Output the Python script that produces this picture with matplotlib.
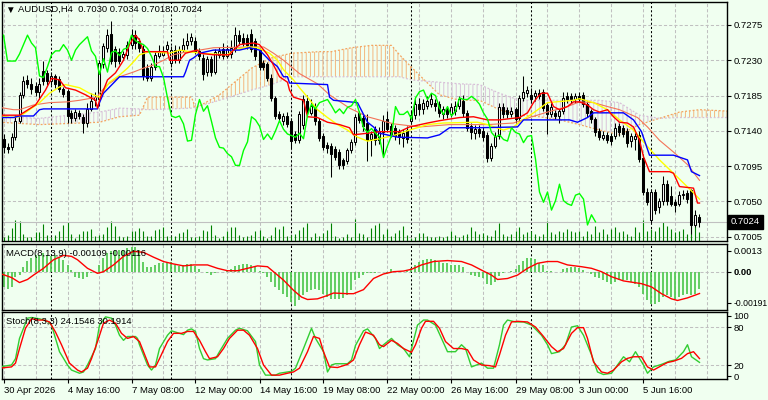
import numpy as np
import matplotlib.pyplot as plt

plt.rcParams['font.family'] = ['Liberation Sans', 'DejaVu Sans']

# AUDUSD H4 candles, bar 0 = 30 Apr 2026 00:00
opens = [
    .7130, .7120, .7119, .7132, .7153, .7186, .7205, .7200, .7197, .7190,
    .7216, .7214, .7204, .7210, .7206, .7193, .7191, .7163, .7156, .7163,
    .7158, .7150, .7168, .7179, .7180, .7225, .7246, .7264, .7244, .7240,
    .7234, .7237, .7250, .7262, .7254, .7244, .7220, .7208, .7222, .7236,
    .7237, .7244, .7227, .7243, .7230, .7243, .7249, .7254, .7255, .7242,
    .7233, .7215, .7232, .7215, .7237, .7245, .7236, .7238, .7244, .7262,
    .7259, .7259, .7264, .7254, .7243, .7226, .7225, .7208, .7182, .7161,
    .7152, .7159, .7153, .7136, .7128, .7148, .7178, .7163, .7170, .7152,
    .7133, .7122, .7121, .7117, .7113, .7103, .7102, .7115, .7126, .7163,
    .7157, .7150, .7130, .7142, .7128, .7138, .7155, .7146, .7144, .7138,
    .7131, .7141, .7152, .7160, .7174, .7168, .7172, .7174, .7176, .7174,
    .7161, .7168, .7162, .7165, .7172, .7178, .7163, .7146, .7137, .7143,
    .7140, .7135, .7106, .7121, .7134, .7171, .7166, .7161, .7168, .7157,
    .7182, .7188, .7186, .7184, .7188, .7189, .7173, .7161, .7163, .7159,
    .7165, .7184, .7184, .7180, .7184, .7186, .7174, .7165, .7155, .7140,
    .7131, .7135, .7134, .7133, .7146, .7144, .7140, .7127, .7130, .7135,
    .7106, .7062, .7026, .7062, .7043, .7051, .7072, .7057, .7049, .7047,
    .7058, .7061, .7064, .7020, .7030]
highs = [
    .7136, .7125, .7137, .7160, .7190, .7210, .7211, .7208, .7202, .7207,
    .7229, .7218, .7215, .7213, .7210, .7196, .7194, .7167, .7168, .7166,
    .7162, .7175, .7188, .7189, .7230, .7252, .7270, .7280, .7248, .7246,
    .7242, .7255, .7270, .7268, .7258, .7250, .7225, .7227, .7242, .7250,
    .7248, .7255, .7248, .7250, .7248, .7258, .7265, .7265, .7260, .7246,
    .7238, .7236, .7236, .7245, .7247, .7252, .7250, .7256, .7273, .7268,
    .7265, .7263, .7270, .7258, .7246, .7230, .7228, .7212, .7185, .7165,
    .7163, .7164, .7156, .7140, .7165, .7186, .7186, .7180, .7175, .7156,
    .7137, .7126, .7125, .7121, .7117, .7106, .7118, .7130, .7162, .7165,
    .7160, .7161, .7140, .7146, .7145, .7160, .7165, .7150, .7148, .7142,
    .7142, .7146, .7165, .7180, .7182, .7181, .7185, .7188, .7180, .7178,
    .7172, .7172, .7175, .7178, .7185, .7186, .7166, .7150, .7148, .7148,
    .7145, .7138, .7124, .7138, .7175, .7176, .7170, .7170, .7171, .7186,
    .7210, .7197, .7195, .7192, .7193, .7193, .7176, .7175, .7167, .7168,
    .7190, .7190, .7188, .7188, .7189, .7189, .7178, .7168, .7158, .7144,
    .7140, .7139, .7137, .7150, .7150, .7148, .7144, .7137, .7140, .7140,
    .7110, .7067, .7066, .7066, .7055, .7083, .7078, .7070, .7053, .7063,
    .7065, .7065, .7066, .7039, .7034]
lows = [
    .7112, .7112, .7115, .7128, .7150, .7182, .7195, .7187, .7185, .7180,
    .7198, .7198, .7198, .7195, .7190, .7183, .7150, .7150, .7152, .7155,
    .7137, .7145, .7165, .7172, .7172, .7220, .7240, .7225, .7222, .7225,
    .7230, .7232, .7245, .7245, .7240, .7205, .7204, .7204, .7218, .7233,
    .7235, .7240, .7222, .7226, .7226, .7240, .7245, .7250, .7238, .7230,
    .7205, .7210, .7210, .7212, .7233, .7232, .7233, .7233, .7240, .7250,
    .7248, .7245, .7240, .7230, .7218, .7218, .7204, .7178, .7155, .7152,
    .7148, .7145, .7118, .7124, .7124, .7143, .7160, .7160, .7148, .7127,
    .7115, .7112, .7081, .7103, .7092, .7092, .7098, .7112, .7122, .7150,
    .7140, .7102, .7108, .7122, .7123, .7108, .7138, .7132, .7128, .7123,
    .7120, .7125, .7150, .7155, .7160, .7162, .7168, .7170, .7165, .7158,
    .7155, .7157, .7158, .7160, .7168, .7158, .7140, .7130, .7130, .7132,
    .7127, .7100, .7102, .7118, .7130, .7157, .7156, .7158, .7150, .7153,
    .7178, .7183, .7175, .7178, .7180, .7165, .7136, .7158, .7155, .7150,
    .7162, .7175, .7176, .7176, .7177, .7170, .7158, .7150, .7133, .7128,
    .7128, .7125, .7122, .7130, .7133, .7132, .7120, .7120, .7115, .7100,
    .7058, .7045, .7022, .7034, .7035, .7045, .7045, .7044, .7036, .7044,
    .7053, .7048, .7008, .7017, .7018]
closes = [
    .7120, .7117, .7132, .7153, .7186, .7203, .7200, .7193, .7190, .7200,
    .7203, .7203, .7210, .7200, .7193, .7187, .7159, .7156, .7164, .7159,
    .7150, .7168, .7178, .7183, .7227, .7248, .7262, .7229, .7229, .7229,
    .7238, .7250, .7262, .7252, .7246, .7210, .7208, .7222, .7237, .7242,
    .7242, .7250, .7243, .7230, .7243, .7250, .7255, .7260, .7242, .7235,
    .7212, .7232, .7215, .7240, .7242, .7236, .7244, .7246, .7262, .7255,
    .7252, .7250, .7245, .7235, .7222, .7222, .7208, .7182, .7159, .7157,
    .7159, .7149, .7127, .7128, .7161, .7180, .7165, .7172, .7152, .7131,
    .7119, .7118, .7111, .7107, .7096, .7096, .7115, .7126, .7158, .7154,
    .7146, .7129, .7136, .7129, .7140, .7153, .7142, .7136, .7134, .7132,
    .7137, .7130, .7160, .7174, .7168, .7176, .7178, .7180, .7172, .7163,
    .7168, .7162, .7170, .7172, .7180, .7163, .7144, .7138, .7143, .7137,
    .7132, .7106, .7121, .7134, .7171, .7161, .7161, .7165, .7155, .7182,
    .7190, .7192, .7180, .7188, .7185, .7169, .7161, .7171, .7159, .7165,
    .7182, .7180, .7180, .7184, .7180, .7174, .7163, .7155, .7138, .7132,
    .7135, .7129, .7127, .7144, .7138, .7136, .7125, .7133, .7134, .7104,
    .7062, .7049, .7062, .7039, .7051, .7072, .7051, .7047, .7045, .7058,
    .7060, .7053, .7020, .7033, .7024]
volumes = [
    370, 600, 1270, 2100, 2000, 700, 430, 430, 930, 930,
    1700, 600, 430, 600, 1000, 1600, 1900, 700, 330, 670,
    1000, 1000, 1200, 500, 600, 670, 1430, 2000, 1500, 500,
    430, 500, 1000, 1000, 1270, 1000, 500, 500, 1100, 1200,
    1430, 500, 500, 500, 770, 930, 1200, 430, 430, 500,
    1100, 1000, 1570, 600, 330, 500, 1000, 1370, 1370, 600,
    430, 500, 600, 1000, 1100, 500, 330, 600, 1430, 1200,
    1530, 500, 600, 670, 1100, 1370, 1770, 430, 770, 500,
    770, 1100, 1770, 500, 330, 430, 670, 430, 2200, 770,
    670, 430, 1270, 1600, 1770, 670, 1200, 500, 770, 1100,
    1500, 600, 330, 430, 830, 770, 500, 370, 430, 500,
    430, 500, 1030, 600, 430, 600, 670, 1370, 1000, 670,
    830, 600, 500, 1100, 1770, 670, 500, 700, 1000, 1370,
    700, 870, 1030, 700, 530, 700, 2000, 870, 700, 1030,
    870, 1200, 1030, 870, 1030, 530, 1030, 700, 1530, 870,
    1200, 700, 1200, 1370, 870, 1030, 700, 530, 1370, 870,
    2100, 1030, 1200, 1030, 1370, 1870, 1530, 1200, 870, 1030,
    1200, 700, 2100, 1530, 870]

# Ichimoku and moving averages as (bar, price) points
tenkan_x = [-1, 4, 8, 10.5, 12, 14, 15.5, 18, 20.5, 23, 23.5, 24, 26, 28, 30, 31.5, 33, 34, 35, 41,
            41.5, 44, 45.5, 48.5, 49, 52.5, 56.5, 57.5, 59, 62.5, 64, 66, 67.5, 69, 71, 71.5, 72.5, 75, 76,
            78.5, 81, 84, 86.5, 87.5, 91, 94, 99, 101.5, 106, 109, 114, 117.5, 121, 124, 129, 131, 132.5,
            133.5, 134.5, 136, 137.5, 139, 141, 142.5, 144, 146, 147.5, 149, 151, 152.5, 154, 156, 157.5,
            159, 160, 161.5, 166.5, 167.5, 169, 172.5, 173.5, 174]
tenkan_y = [.7160, .7160, .7173, .7192, .7207, .7205, .7195, .7192, .7186, .7179, .7169, .7179, .7205,
            .7214, .7230, .7250, .7262, .7256, .7241, .7241, .7230, .7230, .7239, .7243, .7239, .7237,
            .7237, .7243, .7250, .7252, .7250, .7237, .7224, .7209, .7202, .7192, .7183, .7179, .7158,
            .7157, .7151, .7148, .7144, .7135, .7137, .7139, .7139, .7145, .7150, .7153, .7157, .7158,
            .7154, .7154, .7157, .7163, .7176, .7183, .7188, .7188, .7171, .7167, .7171, .7177, .7177,
            .7173, .7167, .7164, .7167, .7158, .7151, .7150, .7145, .7128, .7107, .7088, .7088, .7086,
            .7069, .7067, .7048, .7048]
kijun_x = [-1, 2.5, 4, 7.5, 9, 10, 23.5, 24, 25, 27.5, 29, 45, 45.5, 46.5, 47.5, 49, 52.5, 59, 61.5, 64,
           66.5, 68.5, 70, 71, 71.5, 81, 81.5, 82.5, 88.5, 89, 91, 92.5, 94, 98.5, 106, 109, 111.5, 118.5,
           128.5, 130, 141.5, 143.5, 146, 147.5, 155, 157.5, 159.5, 161.5, 167.5, 171, 172, 174]
kijun_y = [.7157, .7157, .7159, .7159, .7167, .7168, .7168, .7176, .7188, .7201, .7209, .7209, .7215,
           .7230, .7233, .7239, .7243, .7243, .7246, .7243, .7230, .7222, .7209, .7209, .7201, .7199,
           .7183, .7179, .7176, .7171, .7151, .7145, .7137, .7132, .7131, .7135, .7144, .7144, .7145,
           .7154, .7154, .7151, .7157, .7163, .7163, .7154, .7139, .7109, .7109, .7103, .7088, .7083]
span_x = [-1, 9, 24, 29, 34, 36, 47, 48, 54, 62, 67, 72, 79, 82, 87, 92, 97, 99, 102, 104, 109, 114,
          119, 124, 129, 134, 139, 144, 149, 154, 159, 164, 169, 174, 182, 200]
span_a = [.7151, .7148, .7151, .7158, .7160, .7183, .7183, .7169, .7186, .7220, .7233, .7239, .7241,
          .7241, .7246, .7249, .7249, .7237, .7221, .7211, .7186, .7179, .7179, .7167, .7160, .7158,
          .7154, .7148, .7141, .7135, .7148, .7156, .7164, .7167, .7165, .7165]
span_b = [.7158, .7156, .7164, .7169, .7168, .7167, .7169, .7170, .7179, .7192, .7199, .7209, .7209,
          .7209, .7209, .7209, .7209, .7209, .7205, .7204, .7202, .7200, .7199, .7188, .7179, .7179,
          .7179, .7179, .7179, .7176, .7160, .7156, .7157, .7157, .7157, .7157]
yellow_x = [-1, 1.5, 4, 9, 11.5, 14, 15.5, 19, 21.5, 24, 26.5, 29, 31, 32.5, 34, 36.5, 41.5, 44, 49, 56,
            57.5, 61, 63.5, 66.5, 68.5, 70, 72.5, 74, 76, 78.5, 81, 83.5, 86, 88.5, 91, 94, 97.5, 101.5,
            106, 110, 118.5, 121, 125, 127.5, 129, 132.5, 136, 142.5, 144, 147.5, 151, 154, 157.5, 161,
            164, 168.5, 172.5, 174]
yellow_y = [.7160, .7157, .7158, .7176, .7188, .7196, .7199, .7195, .7188, .7183, .7202, .7211, .7220,
            .7228, .7237, .7241, .7239, .7243, .7239, .7237, .7243, .7247, .7246, .7239, .7230, .7218,
            .7205, .7195, .7183, .7167, .7157, .7148, .7141, .7132, .7127, .7130, .7134, .7141, .7148,
            .7150, .7151, .7148, .7141, .7145, .7151, .7163, .7176, .7179, .7181, .7176, .7167, .7154,
            .7141, .7120, .7103, .7081, .7061, .7053]
tomato_x = [-1, 2.5, 4, 7.5, 11.5, 16, 19, 23.5, 24, 26, 29, 32.5, 35, 37.5, 40, 42.5, 46, 49, 52.5,
            62.5, 65, 67.5, 70, 74, 78.5, 81.5, 86.5, 91, 97.5, 104, 111.5, 121, 127.5, 131.5, 136, 141,
            144, 147.5, 151, 154, 158.5, 161, 164, 167.5, 171, 174]
tomato_y = [.7170, .7167, .7167, .7173, .7176, .7177, .7179, .7183, .7188, .7199, .7209, .7215, .7220,
            .7224, .7230, .7237, .7241, .7243, .7246, .7247, .7247, .7239, .7230, .7213, .7200, .7186,
            .7169, .7158, .7149, .7145, .7148, .7148, .7150, .7157, .7164, .7171, .7177, .7176, .7171,
            .7167, .7157, .7145, .7128, .7113, .7097, .7077]

# MACD(8,13,9) in units of 1e-5
macd_hist = [
    -94, -105, -94, -31, -21, 31, 69, 84, 105, 105,
    115, 105, 99, 105, 94, 74, 42, 11, -31, -42,
    -48, -31, -11, 0, 42, 84, 115, 126, 137, 137,
    137, 147, 153, 153, 137, 63, 27, 31, 42, 52,
    52, 63, 57, 42, 36, 42, 48, 48, 36, 14,
    -4, -11, -21, -11, -4, 0, 6, 14, 36, 42,
    46, 48, 42, 27, 6, -11, -31, -63, -94, -115,
    -137, -157, -189, -210, -178, -147, -126, -115, -105, -115,
    -137, -157, -168, -168, -168, -162, -147, -115, -52, -36,
    -21, -11, -11, -6, 0, -4, -6, 14, 0, 0,
    0, 6, 21, 42, 63, 74, 77, 77, 74, 57,
    52, 52, 42, 42, 42, 31, 0, -21, -27, -31,
    -42, -74, -84, -63, -27, -11, -4, 6, 14, 42,
    69, 84, 84, 77, 52, 42, 6, 6, 0, 0,
    14, 21, 27, 27, 21, 11, 0, -14, -31, -42,
    -52, -63, -74, -63, -52, -52, -52, -63, -74, -94,
    -137, -178, -199, -199, -189, -157, -147, -157, -168, -157,
    -147, -137, -147, -140, -109]
signal_x = [-1, 2, 4, 6, 7.5, 10, 12.5, 15, 17, 18.5, 21, 23.5, 25, 27.5, 30, 32.5, 35, 37.5, 40, 42.5,
            45, 47.5, 51, 53.5, 56, 58.5, 61, 63.5, 66, 67.5, 70, 72.5, 74.5, 76, 78.5, 81, 82.5, 86,
            87.5, 90, 92.5, 95, 97.5, 100, 102, 104.5, 107.5, 111, 114.5, 117, 119.5, 122, 123.5, 126,
            128.5, 131, 133.5, 136, 138.5, 141, 144.5, 147, 149.5, 152, 155, 159.5, 162, 164.5, 167,
            168.5, 171, 174]
signal_y = [-10, -36, -67, -48, -21, 21, 74, 101, 95, 74, 21, -10, 0, 42, 95, 126, 120, 90, 63, 48, 36,
            42, 42, 21, 6, 6, 21, 36, 31, 0, -52, -115, -157, -172, -168, -147, -132, -136, -136, -111,
            -42, -14, 0, 4, 15, 42, 63, 69, 63, 42, 10, -21, -48, -42, -21, 21, 52, 63, 63, 42, 31, 21,
            0, -31, -57, -74, -94, -136, -168, -178, -162, -135]

# Stochastic(8,3,3)
stoch_main_x = [-1, 2, 3, 4, 6, 7, 9, 11, 12, 13, 14, 16, 17, 19, 20, 21, 23, 24, 25.5, 27, 28, 29, 30,
                31, 33, 33.5, 34, 36, 37, 38, 39, 41, 42, 43, 45, 46, 47, 48, 49, 50, 51, 53, 54, 56,
                58, 59, 61, 63, 64, 65.5, 68, 69, 71, 72, 73, 75, 76, 77, 78, 80, 81, 82, 83, 86, 87,
                88, 90, 91, 93, 94, 95, 97, 98.5, 100, 101.5, 102, 103.5, 105, 106, 108, 109.5, 111,
                113, 114.5, 115.5, 117, 119.5, 121, 122.5, 124, 125, 126, 128, 130, 132, 134.5, 136,
                137, 139, 140.5, 142, 143.5, 145, 147, 148.5, 150, 152, 153.5, 155, 156.5, 158, 160,
                161, 162.5, 164.5, 166.5, 168, 170, 171, 172, 174]
stoch_main_y = [17, 20, 30, 62, 94, 95, 93, 89, 83, 62, 41, 20, 12, 7, 9, 20, 46, 83, 96, 94, 83, 67,
                59, 65, 65, 62, 52, 20, 12, 20, 46, 67, 74, 72, 68, 75, 77, 73, 46, 30, 28, 30, 41,
                62, 75, 78, 74, 57, 20, 4, 4, 7, 9, 10, 15, 46, 62, 78, 62, 41, 9, 20, 22, 22, 28, 51,
                74, 77, 62, 46, 52, 62, 52, 46, 33, 46, 83, 91, 91, 83, 62, 41, 41, 52, 46, 17, 23,
                15, 15, 52, 83, 91, 88, 88, 83, 67, 52, 38, 41, 52, 80, 82, 67, 36, 9, 5, 7, 20, 33,
                25, 41, 20, 7, 17, 21, 26, 28, 41, 52, 33, 24.15]
stoch_sig_x = [-1, 2, 3, 4, 5.5, 7, 8.5, 10, 11.5, 13, 14.5, 16.5, 18.5, 19.5, 21, 22, 23.5, 25, 26.5,
               28, 29.5, 31, 32.5, 34, 35, 36.5, 38, 39, 41, 42.5, 44.5, 46, 47.5, 49, 50.5, 51.5,
               53.5, 55, 56.5, 58.5, 60, 61.5, 63.5, 65, 67, 69, 71, 72.5, 74, 76, 77.5, 79, 80,
               81.5, 83.5, 86, 87.5, 89, 90.5, 92.5, 94, 95, 97, 98.5, 100, 102, 103, 104.5, 105.5,
               107.5, 109, 110.5, 112.5, 114.5, 116, 117.5, 119.5, 121.5, 123, 124, 125.5, 127,
               128.5, 131, 133, 135, 137, 138.5, 140, 142, 143.5, 145, 146, 147.5, 149.5, 151, 152.5,
               154.5, 156, 157.5, 159.5, 161, 162.5, 164.5, 166, 167.5, 169.5, 171, 172.5, 174]
stoch_sig_y = [15, 17, 23, 46, 78, 93, 91, 91, 88, 72, 52, 23, 12, 9, 15, 30, 57, 86, 91, 86, 70, 62,
               65, 57, 41, 17, 17, 30, 57, 70, 70, 73, 73, 59, 41, 30, 33, 46, 62, 75, 75, 67, 46,
               20, 4, 4, 7, 9, 15, 41, 65, 62, 41, 17, 16, 21, 28, 52, 72, 67, 52, 49, 59, 54, 46,
               40, 52, 78, 89, 89, 78, 57, 46, 46, 44, 28, 20, 19, 17, 36, 67, 88, 89, 88, 80, 65,
               49, 41, 46, 70, 79, 79, 62, 25, 9, 7, 12, 25, 30.5, 33, 33, 17, 12, 19, 24, 26, 30.5,
               38, 41, 30.19]

price_ticks = [0.7275, 0.7230, 0.7185, 0.7140, 0.7095, 0.7050, 0.7005]
week_starts = [12, 42, 72, 102, 132, 162]
date_bars = [0, 16, 32, 48, 64, 80, 96, 112, 128, 144, 160]
date_labels = ['30 Apr 2026', '4 May 16:00', '7 May 08:00', '12 May 00:00', '14 May 16:00',
               '19 May 08:00', '22 May 00:00', '26 May 16:00', '29 May 08:00', '3 Jun 00:00',
               '5 Jun 16:00']

BG = '#F0FFF0'
GRID = '#C0C0C0'
FS = 6.8
W, H = 768, 400
fig = plt.figure(figsize=(W / 100, H / 100), dpi=100, facecolor=BG)


def panel(top, bottom):
    a = fig.add_axes([2 / W, 1 - bottom / H, 725 / W, (bottom - top) / H])
    a.set_facecolor(BG)
    a.set_xlim(-0.375, 180.875)
    for s in a.spines.values():
        s.set_color('black')
        s.set_linewidth(1)
    a.tick_params(axis='x', length=0, labelbottom=False)
    a.yaxis.tick_right()
    a.tick_params(axis='y', length=3, width=0.8, pad=1.5, labelsize=FS, colors='black')
    for v in range(0, 181, 8):
        a.axvline(v, color=GRID, lw=0.75, ls=(0, (3, 2)), zorder=0.5)
    for v in week_starts:
        a.axvline(v, color='black', lw=0.75, ls=(0, (2, 2)), zorder=0.6)
    return a


# ---- price window ----
ax = panel(2, 241)
ax.set_ylim(0.69996, 0.73043)
for p in price_ticks:
    ax.axhline(p, color=GRID, lw=0.75, ls=(0, (3, 2)), zorder=0.5)
ax.set_yticks(price_ticks, [f'{p:.4f}' for p in price_ticks])

x = np.arange(len(closes))
o, h, l, c = (np.array(v) for v in (opens, highs, lows, closes))
vol = np.array(volumes)

# kumo
sx, sa, sb = np.array(span_x), np.array(span_a), np.array(span_b)
plt.rcParams['hatch.linewidth'] = 0.7
ax.fill_between(sx, sa, sb, where=sa >= sb, interpolate=True, facecolor='none',
                edgecolor=(0.957, 0.643, 0.376, 0.8), hatch='||||', lw=0, zorder=1)
ax.fill_between(sx, sa, sb, where=sa < sb, interpolate=True, facecolor='none',
                edgecolor=(0.847, 0.749, 0.847, 0.95), hatch='||||', lw=0, zorder=1)
ax.plot(sx, sa, color='#F4A460', ls=(0, (1.5, 1.5)), lw=0.9, zorder=1.1)
ax.plot(sx, sb, color='#D8BFD8', ls=(0, (1.5, 1.5)), lw=0.9, zorder=1.1)

# volumes along the bottom of the price window
ax.vlines(x, 0, vol / 23900, transform=ax.get_xaxis_transform(), color='green', lw=0.8, zorder=1.5)
ax.axhline(c[-1], color=GRID, lw=0.8, zorder=1.6)

# candles
up = c >= o
ax.vlines(x, l, h, color='black', lw=0.75, zorder=3)
ax.bar(x[up], (c - o)[up], 0.5, bottom=o[up], facecolor='white', edgecolor='black', lw=0.75, zorder=3.1)
ax.bar(x[~up], (o - c)[~up], 0.5, bottom=c[~up], facecolor='black', edgecolor='black', lw=0.75, zorder=3.1)

# lines
ax.plot(tomato_x, tomato_y, color='#F47358', lw=0.8, zorder=4)
ax.plot(yellow_x, yellow_y, color='#FFFF00', lw=1, zorder=4)
ax.plot(kijun_x, kijun_y, color='#0000FF', lw=1, zorder=4)
ax.plot(tenkan_x, tenkan_y, color='#FF0000', lw=1, zorder=4)
ax.plot(x[:-26], c[26:], color='#00FF00', lw=1, zorder=4)

ax.text(1.0055, c[-1], f'{c[-1]:.4f}', transform=ax.get_yaxis_transform(), color='white',
        fontsize=FS, va='center', ha='left', clip_on=False,
        bbox=dict(boxstyle='square,pad=0.3', fc='black', ec='black'))

fig.text(5 / W, 1 - 9.5 / H, '\u25bc', fontsize=7, va='center', ha='left')
fig.text(18 / W, 1 - 9.5 / H, f'AUDUSD,H4  {o[-1]:.4f} {h[-1]:.4f} {l[-1]:.4f} {c[-1]:.4f}',
         fontsize=FS, va='center', ha='left')

# ---- MACD window ----
am = panel(244, 310)
am.set_ylim(-237, 171.5)
am.axhline(0, color=GRID, lw=0.75, ls=(0, (3, 2)), zorder=0.5)
am.vlines(x, 0, macd_hist, color='#55C955', lw=1.3, zorder=2)
am.plot(signal_x, signal_y, color='#FF0000', lw=1, zorder=3)
am.set_yticks([130, 0, -191], ['0.0013', '0.00', '-0.00191'])
am.get_yticklabels()[1].set_fontweight('bold')
am.get_yticklabels()[2].set_fontsize(6.2)
fig.text(6 / W, 1 - 253 / H, 'MACD(8,13,9) -0.00109 -0.00116', fontsize=FS, va='center', ha='left')

# ---- Stochastic window ----
ast = panel(312, 379)
ast.set_ylim(-2.1, 103.7)
for v in (80, 20):
    ast.axhline(v, color=GRID, lw=0.75, ls=(0, (3, 2)), zorder=0.5)
ast.plot(stoch_main_x, stoch_main_y, color='#32CD32', lw=1, zorder=3)
ast.plot(stoch_sig_x, stoch_sig_y, color='#FF0000', lw=1, zorder=3)
ast.set_yticks([97.4, 80, 20, 2.6], ['100', '80', '20', '0'])
ast.set_xticks(date_bars, date_labels)
ast.tick_params(axis='x', length=3, width=0.8, labelbottom=True, labelsize=FS, pad=2)
for lbl in ast.get_xticklabels():
    lbl.set_ha('left')
fig.text(6 / W, 1 - 322 / H, 'Stoch(8,3,3) 24.1546 30.1914', fontsize=FS, va='center', ha='left')

fig.savefig('out.png', dpi=100, facecolor=BG)
